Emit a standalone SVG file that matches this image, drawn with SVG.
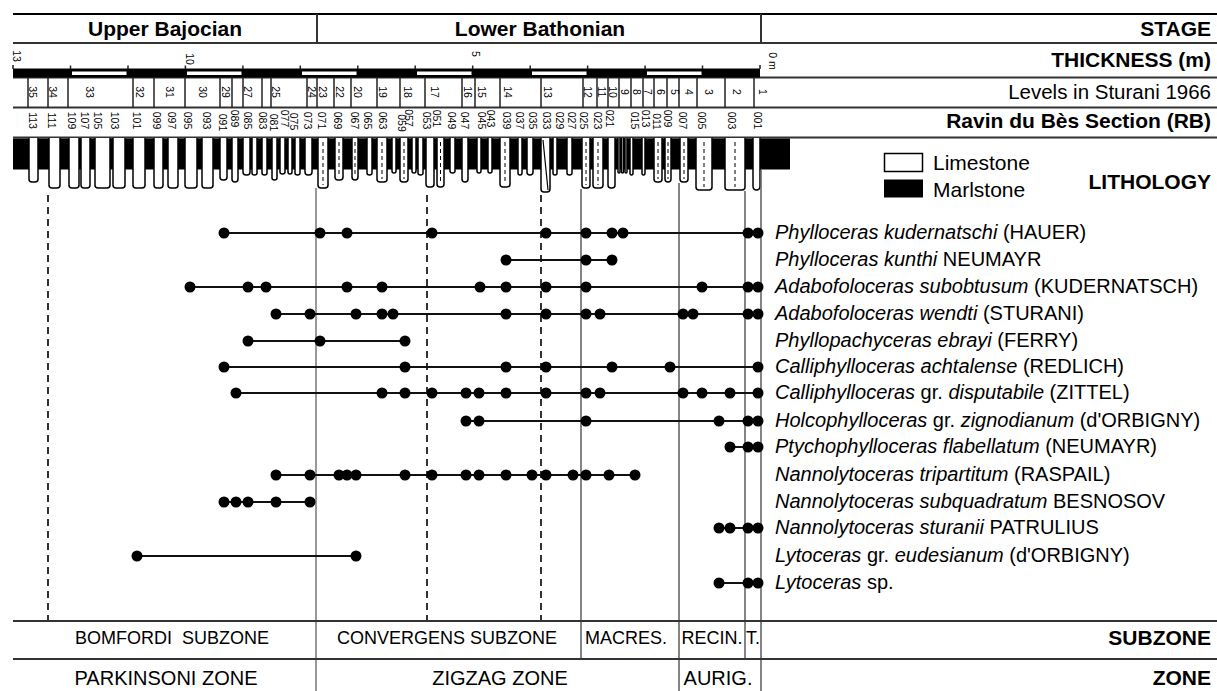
<svg xmlns="http://www.w3.org/2000/svg" xmlns:xlink="http://www.w3.org/1999/xlink" width="1217" height="691" viewBox="0 0 1217 691">
<style>
.t{font-family:"Liberation Sans",Arial,Helvetica,sans-serif;fill:#000}
.hb{font-weight:bold;font-size:21px;text-anchor:end}
.hr{font-size:20.5px;text-anchor:end}
.stg{font-weight:bold;font-size:21px;text-anchor:middle}
.sp{font-size:20px}
.n{font-size:10.5px;text-anchor:middle}
.sz{font-size:18px;text-anchor:middle}
.zn{font-size:20px;text-anchor:middle}
.grid{stroke:#333;stroke-width:2;fill:none}
.top{stroke:#000;stroke-width:2.2}
.sep{stroke:#222;stroke-width:1.5}
.ls{fill:#fff;stroke:#000;stroke-width:1.5}
.dl{stroke:#000;stroke-width:1;stroke-dasharray:4 3}
.bd{stroke:#000;stroke-width:1.6;stroke-dasharray:7 5}
.bs{stroke:#666;stroke-width:1.6}
.bs2{stroke:#999;stroke-width:2}
.rng{stroke:#111;stroke-width:2}
.dot{fill:#000}
</style>
<defs>
<circle id="d" class="dot" r="5.5"/>
</defs>
<rect width="1217" height="691" fill="#fff"/>

<g id="header">
<line class="top" x1="13" y1="14" x2="1217" y2="14"/>
<line class="grid" x1="13" y1="43" x2="1217" y2="43"/>
<line class="grid" x1="13" y1="77.5" x2="1217" y2="77.5"/>
<line class="grid" x1="13" y1="107.5" x2="1217" y2="107.5"/>
<line class="grid" x1="13" y1="137.5" x2="1217" y2="137.5"/>
<line class="grid" x1="317" y1="14" x2="317" y2="43"/>
<line class="grid" x1="761" y1="14" x2="761" y2="43"/>
<text class="t stg" x="165" y="35.5">Upper Bajocian</text>
<text class="t stg" x="540" y="35.5">Lower Bathonian</text>
<text class="t hb" x="1211" y="35.5">STAGE</text>
<text class="t hb" x="1211" y="67">THICKNESS (m)</text>
<text class="t hr" x="1211" y="99">Levels in Sturani 1966</text>
<text class="t hb" x="1211" y="128">Ravin du Bès Section (RB)</text>
</g>

<g id="thickness-scale">
<rect x="13" y="68.5" width="747" height="9" fill="#000"/>
<g fill="#fff">
<rect x="72" y="71.5" width="54.5" height="3.5"/>
<rect x="187" y="71.5" width="54.5" height="3.5"/>
<rect x="302" y="71.5" width="54.5" height="3.5"/>
<rect x="417" y="71.5" width="54.5" height="3.5"/>
<rect x="532" y="71.5" width="54.5" height="3.5"/>
<rect x="647" y="71.5" width="54.5" height="3.5"/>
</g>
<g class="sep">
<line x1="13" y1="65" x2="13" y2="69"/><line x1="70.5" y1="65.5" x2="70.5" y2="69"/><line x1="128" y1="65.5" x2="128" y2="69"/><line x1="185.4" y1="65.5" x2="185.4" y2="69"/><line x1="242.9" y1="65.5" x2="242.9" y2="69"/><line x1="300.3" y1="65.5" x2="300.3" y2="69"/><line x1="357.8" y1="65.5" x2="357.8" y2="69"/><line x1="415.2" y1="65.5" x2="415.2" y2="69"/><line x1="472.7" y1="65.5" x2="472.7" y2="69"/><line x1="530.2" y1="65.5" x2="530.2" y2="69"/><line x1="587.6" y1="65.5" x2="587.6" y2="69"/><line x1="645.1" y1="65.5" x2="645.1" y2="69"/><line x1="702.5" y1="65.5" x2="702.5" y2="69"/><line x1="760" y1="65" x2="760" y2="69"/>
</g>
<text class="t n" transform="translate(13 56) rotate(90)">13</text>
<text class="t n" transform="translate(186 59) rotate(90)">10</text>
<text class="t n" transform="translate(472 54) rotate(90)">5</text>
<text class="t n" transform="translate(769 61) rotate(90)">0 m</text>
</g>

<g id="sturani-levels">
<g class="sep">
<line x1="28" y1="77.5" x2="28" y2="107.5"/><line x1="48" y1="77.5" x2="48" y2="107.5"/><line x1="68" y1="77.5" x2="68" y2="107.5"/><line x1="133" y1="77.5" x2="133" y2="107.5"/><line x1="154" y1="77.5" x2="154" y2="107.5"/><line x1="185" y1="77.5" x2="185" y2="107.5"/><line x1="220" y1="77.5" x2="220" y2="107.5"/><line x1="232" y1="77.5" x2="232" y2="107.5"/><line x1="243" y1="77.5" x2="243" y2="107.5"/><line x1="262" y1="77.5" x2="262" y2="107.5"/><line x1="271" y1="77.5" x2="271" y2="107.5"/><line x1="307" y1="77.5" x2="307" y2="107.5"/><line x1="317" y1="77.5" x2="317" y2="107.5"/><line x1="334" y1="77.5" x2="334" y2="107.5"/><line x1="351" y1="77.5" x2="351" y2="107.5"/><line x1="377" y1="77.5" x2="377" y2="107.5"/><line x1="400" y1="77.5" x2="400" y2="107.5"/><line x1="425" y1="77.5" x2="425" y2="107.5"/><line x1="462" y1="77.5" x2="462" y2="107.5"/><line x1="475" y1="77.5" x2="475" y2="107.5"/><line x1="500" y1="77.5" x2="500" y2="107.5"/><line x1="541" y1="77.5" x2="541" y2="107.5"/><line x1="583" y1="77.5" x2="583" y2="107.5"/><line x1="597" y1="77.5" x2="597" y2="107.5"/><line x1="608" y1="77.5" x2="608" y2="107.5"/><line x1="619" y1="77.5" x2="619" y2="107.5"/><line x1="631" y1="77.5" x2="631" y2="107.5"/><line x1="643" y1="77.5" x2="643" y2="107.5"/><line x1="654" y1="77.5" x2="654" y2="107.5"/><line x1="667" y1="77.5" x2="667" y2="107.5"/><line x1="679" y1="77.5" x2="679" y2="107.5"/><line x1="697" y1="77.5" x2="697" y2="107.5"/><line x1="725" y1="77.5" x2="725" y2="107.5"/><line x1="754" y1="77.5" x2="754" y2="107.5"/>
</g>
<text class="t n" transform="translate(29.2 92) rotate(90)">35</text>
<text class="t n" transform="translate(49.2 92) rotate(90)">34</text>
<text class="t n" transform="translate(86.2 92) rotate(90)">33</text>
<text class="t n" transform="translate(136.2 92) rotate(90)">32</text>
<text class="t n" transform="translate(166.2 92) rotate(90)">31</text>
<text class="t n" transform="translate(199.2 92) rotate(90)">30</text>
<text class="t n" transform="translate(222.2 92) rotate(90)">29</text>
<text class="t n" transform="translate(244.2 92) rotate(90)">27</text>
<text class="t n" transform="translate(272.2 92) rotate(90)">25</text>
<text class="t n" transform="translate(307.5 92) rotate(90)">24</text>
<text class="t n" transform="translate(319.2 92) rotate(90)">23</text>
<text class="t n" transform="translate(336.2 92) rotate(90)">22</text>
<text class="t n" transform="translate(354.2 92) rotate(90)">20</text>
<text class="t n" transform="translate(379.2 92) rotate(90)">19</text>
<text class="t n" transform="translate(404.2 92) rotate(90)">18</text>
<text class="t n" transform="translate(431.2 92) rotate(90)">17</text>
<text class="t n" transform="translate(463.5 92) rotate(90)">16</text>
<text class="t n" transform="translate(478.2 92) rotate(90)">15</text>
<text class="t n" transform="translate(504.2 92) rotate(90)">14</text>
<text class="t n" transform="translate(544.2 92) rotate(90)">13</text>
<text class="t n" transform="translate(583.5 92) rotate(90)">12</text>
<text class="t n" transform="translate(597.5 92) rotate(90)">11</text>
<text class="t n" transform="translate(608.5 92) rotate(90)">10</text>
<text class="t n" transform="translate(620.5 92) rotate(90)">9</text>
<text class="t n" transform="translate(632.5 92) rotate(90)">8</text>
<text class="t n" transform="translate(643.5 92) rotate(90)">7</text>
<text class="t n" transform="translate(656.5 92) rotate(90)">6</text>
<text class="t n" transform="translate(670.5 92) rotate(90)">5</text>
<text class="t n" transform="translate(684.5 92) rotate(90)">4</text>
<text class="t n" transform="translate(704.5 92) rotate(90)">3</text>
<text class="t n" transform="translate(732.5 92) rotate(90)">2</text>
<text class="t n" transform="translate(758.5 92) rotate(90)">1</text>
</g>

<g id="rb-levels">
<text class="t n" transform="translate(29.2 120.5) rotate(90)">113</text>
<text class="t n" transform="translate(48.2 120.5) rotate(90)">111</text>
<text class="t n" transform="translate(68.2 120.5) rotate(90)">109</text>
<text class="t n" transform="translate(81.2 120.5) rotate(90)">107</text>
<text class="t n" transform="translate(94.2 120.5) rotate(90)">105</text>
<text class="t n" transform="translate(111.2 120.5) rotate(90)">103</text>
<text class="t n" transform="translate(133.2 120.5) rotate(90)">101</text>
<text class="t n" transform="translate(153.2 120.5) rotate(90)">099</text>
<text class="t n" transform="translate(168.2 120.5) rotate(90)">097</text>
<text class="t n" transform="translate(184.2 120.5) rotate(90)">095</text>
<text class="t n" transform="translate(203.2 120.5) rotate(90)">093</text>
<text class="t n" transform="translate(219.2 122.5) rotate(90)">091</text>
<text class="t n" transform="translate(231.2 118.5) rotate(90)">089</text>
<text class="t n" transform="translate(244.2 120.5) rotate(90)">085</text>
<text class="t n" transform="translate(259.2 120.5) rotate(90)">083</text>
<text class="t n" transform="translate(270.2 122.5) rotate(90)">081</text>
<text class="t n" transform="translate(281.2 118.5) rotate(90)">077</text>
<text class="t n" transform="translate(290.2 121.5) rotate(90)">075</text>
<text class="t n" transform="translate(304.2 120.5) rotate(90)">073</text>
<text class="t n" transform="translate(318.2 120.5) rotate(90)">071</text>
<text class="t n" transform="translate(334.2 120.5) rotate(90)">069</text>
<text class="t n" transform="translate(351.2 120.5) rotate(90)">067</text>
<text class="t n" transform="translate(364.2 120.5) rotate(90)">065</text>
<text class="t n" transform="translate(379.2 120.5) rotate(90)">063</text>
<text class="t n" transform="translate(398.2 123) rotate(90)">059</text>
<text class="t n" transform="translate(405.2 118) rotate(90)">057</text>
<text class="t n" transform="translate(423.2 120.5) rotate(90)">053</text>
<text class="t n" transform="translate(433.2 118.5) rotate(90)">051</text>
<text class="t n" transform="translate(448.2 120.5) rotate(90)">049</text>
<text class="t n" transform="translate(461.2 120.5) rotate(90)">047</text>
<text class="t n" transform="translate(478.2 120.5) rotate(90)">045</text>
<text class="t n" transform="translate(487.2 118.5) rotate(90)">043</text>
<text class="t n" transform="translate(503.2 120.5) rotate(90)">039</text>
<text class="t n" transform="translate(516.2 120.5) rotate(90)">037</text>
<text class="t n" transform="translate(529.2 120.5) rotate(90)">035</text>
<text class="t n" transform="translate(543.2 120.5) rotate(90)">033</text>
<text class="t n" transform="translate(556.2 120.5) rotate(90)">029</text>
<text class="t n" transform="translate(568.2 120.5) rotate(90)">027</text>
<text class="t n" transform="translate(580.2 120.5) rotate(90)">025</text>
<text class="t n" transform="translate(594.2 120.5) rotate(90)">023</text>
<text class="t n" transform="translate(606.2 118.5) rotate(90)">021</text>
<text class="t n" transform="translate(631.2 120.5) rotate(90)">015</text>
<text class="t n" transform="translate(642.2 118.5) rotate(90)">013</text>
<text class="t n" transform="translate(653.2 121.5) rotate(90)">011</text>
<text class="t n" transform="translate(664.2 118.5) rotate(90)">009</text>
<text class="t n" transform="translate(679.2 120.5) rotate(90)">007</text>
<text class="t n" transform="translate(698.2 120.5) rotate(90)">005</text>
<text class="t n" transform="translate(728.2 120.5) rotate(90)">003</text>
<text class="t n" transform="translate(754.2 120.5) rotate(90)">001</text>
</g>

<g id="lithology">
<rect x="13" y="138.5" width="777" height="31" fill="#000"/>
<g class="ls">
<path d="M29 138V179Q29 182 32 182H35Q38 182 38 179V138"/>
<path d="M49 138V185Q49 188 52 188H57Q60 188 60 185V138"/>
<path d="M69 138V185Q69 188 72 188H76Q79 188 79 185V138"/>
<path d="M81 138V185Q81 188 84 188H87Q90 188 90 185V138"/>
<path d="M95 138V185Q95 188 98 188H107Q110 188 110 185V138"/>
<path d="M113 138V185Q113 188 116 188H122Q125 188 125 185V138"/>
<path d="M133 138V185Q133 188 136 188H142Q145 188 145 185V138"/>
<path d="M154 138V185Q154 188 157 188H160Q163 188 163 185V138"/>
<path d="M168 138V185Q168 188 171 188H175Q178 188 178 185V138"/>
<path d="M185 138V185Q185 188 188 188H194Q197 188 197 185V138"/>
<path d="M202 138V185Q202 188 205 188H210Q213 188 213 185V138"/>
<path d="M220 138V177Q220 180 223 180H224Q227 180 227 177V138"/>
<path d="M232 138V179Q232 182 235 182Q238 182 238 179V138"/>
<path d="M243 138V172Q243 175 246 175H247Q250 175 250 172V138"/>
<path d="M252 138V173Q252 175 254.5 175Q257 175 257 173V138"/>
<path d="M262 138V173Q262 175 264.5 175Q267 175 267 173V138"/>
<path d="M272 138V178Q272 180 274.5 180Q277 180 277 178V138"/>
<path d="M280 138V172Q280 174 282.5 174Q285 174 285 172V138"/>
<path d="M288 138V172Q288 174 290 174Q292 174 292 172V138"/>
<path d="M295 138V173Q295 175 297.5 175Q300 175 300 173V138"/>
<path d="M305 138V172Q305 175 308 175H309Q312 175 312 172V138"/>
<path d="M318 138V185Q318 188 321 188H325Q328 188 328 185V138"/>
<path d="M335 138V177Q335 180 338 180H340Q343 180 343 177V138"/>
<path d="M352 138V177Q352 180 355 180Q358 180 358 177V138"/>
<path d="M367 138V173Q367 175 369.5 175Q372 175 372 173V138"/>
<path d="M377 138V179Q377 182 380 182H384Q387 182 387 179V138"/>
<path d="M392 138V171Q392 173 394 173Q396 173 396 171V138"/>
<path d="M400 138V179Q400 182 403 182H405Q408 182 408 179V138"/>
<path d="M412 138V171Q412 173 414 173Q416 173 416 171V138"/>
<path d="M418 138V173Q418 175 420.5 175Q423 175 423 173V138"/>
<path d="M426 138V184Q426 187 429 187H431Q434 187 434 184V138"/>
<path d="M437 138V184Q437 187 440 187H441Q444 187 444 184V138"/>
<path d="M450 138V171Q450 173 452.5 173Q455 173 455 171V138"/>
<path d="M462 138V179Q462 182 465 182Q468 182 468 179V138"/>
<path d="M477 138V171Q477 173 479 173Q481 173 481 171V138"/>
<path d="M488 138V171Q488 173 490 173Q492 173 492 171V138"/>
<path d="M500 138V184Q500 187 503 187H507Q510 187 510 184V138"/>
<path d="M518 138V173Q518 175 520 175Q522 175 522 173V138"/>
<path d="M527 138V172Q527 175 530 175Q533 175 533 172V138"/>
<path d="M541 138V189Q541 192 544 192H547Q550 192 550 189V138"/>
<path d="M553 138V173Q553 175 555 175Q557 175 557 173V138"/>
<path d="M567 138V173Q567 175 569.5 175Q572 175 572 173V138"/>
<path d="M582 138V185Q582 188 585 188H587Q590 188 590 185V138"/>
<path d="M593 138V185Q593 188 596 188H600Q603 188 603 185V138"/>
<path d="M608 138V185Q608 188 611 188H612Q615 188 615 185V138"/>
<path d="M618 138V172Q618 173 619 173Q620 173 620 172V138"/>
<path d="M621.5 138V172Q621.5 173 622.5 173Q623.5 173 623.5 172V138"/>
<path d="M625 138V172Q625 173 626 173Q627 173 627 172V138"/>
<path d="M630 138V173Q630 175 631.5 175Q633 175 633 173V138"/>
<path d="M642 138V173Q642 175 643.5 175Q645 175 645 173V138"/>
<path d="M654 138V179Q654 182 657 182H659Q662 182 662 179V138"/>
<path d="M665 138V179Q665 182 668 182Q671 182 671 179V138"/>
<path d="M680 138V179Q680 182 683 182H685Q688 182 688 179V138"/>
<path d="M696 138V187Q696 190 699 190H709Q712 190 712 187V138"/>
<path d="M725 138V187Q725 190 728 190H742Q745 190 745 187V138"/>
<path d="M753 138V186Q753 190 756.5 190Q760 190 760 186V138"/>
</g>
<line x1="543" y1="140" x2="548" y2="190" stroke="#000" stroke-width="1.2"/>
<g class="dl">
<line x1="323" y1="142" x2="323" y2="185"/><line x1="339" y1="142" x2="339" y2="177"/><line x1="355" y1="142" x2="355" y2="177"/><line x1="382" y1="142" x2="382" y2="179"/><line x1="404" y1="142" x2="404" y2="179"/><line x1="440.5" y1="142" x2="440.5" y2="184"/><line x1="505" y1="142" x2="505" y2="184"/><line x1="586" y1="142" x2="586" y2="185"/><line x1="598" y1="142" x2="598" y2="185"/><line x1="658" y1="142" x2="658" y2="179"/><line x1="668" y1="142" x2="668" y2="179"/><line x1="684" y1="142" x2="684" y2="179"/><line x1="704" y1="142" x2="704" y2="187"/><line x1="735" y1="142" x2="735" y2="187"/>
</g>
</g>

<g id="legend">
<rect x="884.5" y="153.5" width="38" height="18" fill="#fff" stroke="#000" stroke-width="1.5"/>
<rect x="884" y="179.5" width="39" height="18" fill="#000"/>
<text class="t" x="933" y="170" font-size="21">Limestone</text>
<text class="t" x="933" y="197" font-size="21">Marlstone</text>
<text class="t hb" x="1211" y="189">LITHOLOGY</text>
</g>

<g id="connectors">
<line class="bd" x1="48" y1="195" x2="48" y2="621"/>
<line class="bs2" x1="316" y1="188" x2="316" y2="691"/>
<line class="bd" x1="427" y1="195" x2="427" y2="621"/>
<line class="bd" x1="541" y1="195" x2="541" y2="621"/>
<line class="bs" x1="581" y1="189" x2="581" y2="659"/>
<line class="bs" x1="679" y1="183" x2="679" y2="691"/>
<line class="bs" x1="745" y1="191" x2="745" y2="659"/>
<line class="bs" x1="761" y1="170" x2="761" y2="691"/>
</g>

<g id="sp-kudernatschi">
<line class="rng" x1="224" y1="233" x2="758" y2="233"/>
<use href="#d" x="224" y="233"/><use href="#d" x="320" y="233"/><use href="#d" x="347" y="233"/><use href="#d" x="432" y="233"/><use href="#d" x="546" y="233"/><use href="#d" x="586" y="233"/><use href="#d" x="612" y="233"/><use href="#d" x="623" y="233"/><use href="#d" x="748" y="233"/><use href="#d" x="758" y="233"/>
<text class="t sp" x="775" y="239"><tspan font-style="italic">Phylloceras kudernatschi</tspan> (HAUER)</text>
</g>
<g id="sp-kunthi">
<line class="rng" x1="506" y1="260" x2="612" y2="260"/>
<use href="#d" x="506" y="260"/><use href="#d" x="586" y="260"/><use href="#d" x="612" y="260"/>
<text class="t sp" x="775" y="266"><tspan font-style="italic">Phylloceras kunthi</tspan> NEUMAYR</text>
</g>
<g id="sp-subobtusum">
<line class="rng" x1="190" y1="287" x2="758" y2="287"/>
<use href="#d" x="190" y="287"/><use href="#d" x="248" y="287"/><use href="#d" x="266" y="287"/><use href="#d" x="347" y="287"/><use href="#d" x="382" y="287"/><use href="#d" x="480" y="287"/><use href="#d" x="506" y="287"/><use href="#d" x="546" y="287"/><use href="#d" x="586" y="287"/><use href="#d" x="702" y="287"/><use href="#d" x="748" y="287"/><use href="#d" x="758" y="287"/>
<text class="t sp" x="775" y="293"><tspan font-style="italic">Adabofoloceras subobtusum</tspan> (KUDERNATSCH)</text>
</g>
<g id="sp-wendti">
<line class="rng" x1="276" y1="314" x2="758" y2="314"/>
<use href="#d" x="276" y="314"/><use href="#d" x="310" y="314"/><use href="#d" x="356" y="314"/><use href="#d" x="382" y="314"/><use href="#d" x="393" y="314"/><use href="#d" x="506" y="314"/><use href="#d" x="546" y="314"/><use href="#d" x="586" y="314"/><use href="#d" x="600" y="314"/><use href="#d" x="683" y="314"/><use href="#d" x="693" y="314"/><use href="#d" x="748" y="314"/><use href="#d" x="758" y="314"/>
<text class="t sp" x="775" y="320"><tspan font-style="italic">Adabofoloceras wendti</tspan> (STURANI)</text>
</g>
<g id="sp-ebrayi">
<line class="rng" x1="248" y1="341" x2="405" y2="341"/>
<use href="#d" x="248" y="341"/><use href="#d" x="320" y="341"/><use href="#d" x="405" y="341"/>
<text class="t sp" x="775" y="347"><tspan font-style="italic">Phyllopachyceras ebrayi</tspan> (FERRY)</text>
</g>
<g id="sp-achtalense">
<line class="rng" x1="224" y1="367" x2="758" y2="367"/>
<use href="#d" x="224" y="367"/><use href="#d" x="405" y="367"/><use href="#d" x="506" y="367"/><use href="#d" x="546" y="367"/><use href="#d" x="612" y="367"/><use href="#d" x="670" y="367"/><use href="#d" x="758" y="367"/>
<text class="t sp" x="775" y="373"><tspan font-style="italic">Calliphylloceras achtalense</tspan> (REDLICH)</text>
</g>
<g id="sp-disputabile">
<line class="rng" x1="236" y1="393" x2="758" y2="393"/>
<use href="#d" x="236" y="393"/><use href="#d" x="382" y="393"/><use href="#d" x="405" y="393"/><use href="#d" x="432" y="393"/><use href="#d" x="466" y="393"/><use href="#d" x="479" y="393"/><use href="#d" x="506" y="393"/><use href="#d" x="546" y="393"/><use href="#d" x="586" y="393"/><use href="#d" x="600" y="393"/><use href="#d" x="683" y="393"/><use href="#d" x="702" y="393"/><use href="#d" x="730" y="393"/><use href="#d" x="758" y="393"/>
<text class="t sp" x="775" y="399"><tspan font-style="italic">Calliphylloceras</tspan> gr. <tspan font-style="italic">disputabile</tspan> (ZITTEL)</text>
</g>
<g id="sp-zignodianum">
<line class="rng" x1="466" y1="421" x2="758" y2="421"/>
<use href="#d" x="466" y="421"/><use href="#d" x="479" y="421"/><use href="#d" x="586" y="421"/><use href="#d" x="719" y="421"/><use href="#d" x="748" y="421"/><use href="#d" x="758" y="421"/>
<text class="t sp" x="775" y="427"><tspan font-style="italic">Holcophylloceras</tspan> gr. <tspan font-style="italic">zignodianum</tspan> (d'ORBIGNY)</text>
</g>
<g id="sp-flabellatum">
<line class="rng" x1="730" y1="447" x2="758" y2="447"/>
<use href="#d" x="730" y="447"/><use href="#d" x="748" y="447"/><use href="#d" x="758" y="447"/>
<text class="t sp" x="775" y="453"><tspan font-style="italic">Ptychophylloceras flabellatum</tspan> (NEUMAYR)</text>
</g>
<g id="sp-tripartitum">
<line class="rng" x1="276" y1="475" x2="635" y2="475"/>
<use href="#d" x="276" y="475"/><use href="#d" x="310" y="475"/><use href="#d" x="339" y="475"/><use href="#d" x="347" y="475"/><use href="#d" x="356" y="475"/><use href="#d" x="405" y="475"/><use href="#d" x="432" y="475"/><use href="#d" x="466" y="475"/><use href="#d" x="479" y="475"/><use href="#d" x="506" y="475"/><use href="#d" x="532" y="475"/><use href="#d" x="546" y="475"/><use href="#d" x="573" y="475"/><use href="#d" x="586" y="475"/><use href="#d" x="609" y="475"/><use href="#d" x="635" y="475"/>
<text class="t sp" x="775" y="481"><tspan font-style="italic">Nannolytoceras tripartitum</tspan> (RASPAIL)</text>
</g>
<g id="sp-subquadratum">
<line class="rng" x1="224" y1="502" x2="310" y2="502"/>
<use href="#d" x="224" y="502"/><use href="#d" x="236" y="502"/><use href="#d" x="248" y="502"/><use href="#d" x="276" y="502"/><use href="#d" x="310" y="502"/>
<text class="t sp" x="775" y="508"><tspan font-style="italic">Nannolytoceras subquadratum</tspan> BESNOSOV</text>
</g>
<g id="sp-sturanii">
<line class="rng" x1="719" y1="528" x2="758" y2="528"/>
<use href="#d" x="719" y="528"/><use href="#d" x="730" y="528"/><use href="#d" x="748" y="528"/><use href="#d" x="758" y="528"/>
<text class="t sp" x="775" y="534"><tspan font-style="italic">Nannolytoceras sturanii</tspan> PATRULIUS</text>
</g>
<g id="sp-eudesianum">
<line class="rng" x1="137" y1="556" x2="356" y2="556"/>
<use href="#d" x="137" y="556"/><use href="#d" x="356" y="556"/>
<text class="t sp" x="775" y="562"><tspan font-style="italic">Lytoceras</tspan> gr. <tspan font-style="italic">eudesianum</tspan> (d'ORBIGNY)</text>
</g>
<g id="sp-lytoceras">
<line class="rng" x1="719" y1="583" x2="758" y2="583"/>
<use href="#d" x="719" y="583"/><use href="#d" x="748" y="583"/><use href="#d" x="758" y="583"/>
<text class="t sp" x="775" y="589"><tspan font-style="italic">Lytoceras</tspan> sp.</text>
</g>

<g id="biozones">
<line class="grid" x1="13" y1="621" x2="1217" y2="621"/>
<line class="grid" x1="13" y1="659" x2="1217" y2="659"/>
<text class="t sz" x="172" y="644" xml:space="preserve">BOMFORDI  SUBZONE</text>
<text class="t sz" x="447" y="644">CONVERGENS SUBZONE</text>
<text class="t sz" x="626" y="644">MACRES.</text>
<text class="t sz" x="712" y="644" font-size="17">RECIN.</text>
<text class="t sz" x="753" y="644" font-size="17">T.</text>
<text class="t hb" x="1211" y="645">SUBZONE</text>
<text class="t zn" x="166" y="685">PARKINSONI ZONE</text>
<text class="t zn" x="500" y="685">ZIGZAG ZONE</text>
<text class="t zn" x="718" y="685">AURIG.</text>
<text class="t hb" x="1211" y="685">ZONE</text>
</g>
</svg>
